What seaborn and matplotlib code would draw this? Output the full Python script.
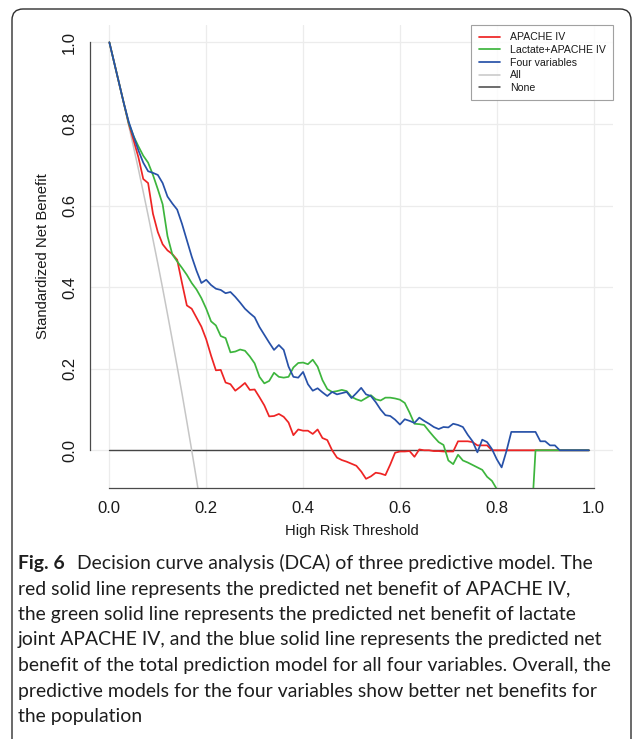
import numpy as np
import pandas as pd
import matplotlib
matplotlib.use("Agg")
import matplotlib.pyplot as plt
import seaborn as sns
from matplotlib.patches import FancyBboxPatch
from matplotlib.transforms import IdentityTransform
from matplotlib.lines import Line2D

# ---------------- data ----------------
thresholds = [0.00, 0.01, 0.02, 0.03, 0.04, 0.05, 0.06, 0.07, 0.08, 0.09,
              0.10, 0.11, 0.12, 0.13, 0.14, 0.15, 0.16, 0.17, 0.18, 0.19,
              0.20, 0.21, 0.22, 0.23, 0.24, 0.25, 0.26, 0.27, 0.28, 0.29,
              0.30, 0.31, 0.32, 0.33, 0.34, 0.35, 0.36, 0.37, 0.38, 0.39,
              0.40, 0.41, 0.42, 0.43, 0.44, 0.45, 0.46, 0.47, 0.48, 0.49,
              0.50, 0.51, 0.52, 0.53, 0.54, 0.55, 0.56, 0.57, 0.58, 0.59,
              0.60, 0.61, 0.62, 0.63, 0.64, 0.65, 0.66, 0.67, 0.68, 0.69,
              0.70, 0.71, 0.72, 0.73, 0.74, 0.75, 0.76, 0.77, 0.78, 0.79,
              0.80, 0.81, 0.82, 0.83, 0.84, 0.85, 0.86, 0.87, 0.88, 0.89,
              0.90, 0.91, 0.92, 0.93, 0.94, 0.95, 0.96, 0.97, 0.98, 0.99]

apache_iv = [1.000, 0.950, 0.900, 0.850, 0.800, 0.760, 0.718, 0.665, 0.655, 0.580,
             0.535, 0.505, 0.490, 0.481, 0.467, 0.410, 0.355, 0.347, 0.325, 0.303,
             0.272, 0.232, 0.196, 0.197, 0.166, 0.162, 0.146, 0.155, 0.165, 0.148,
             0.149, 0.130, 0.110, 0.083, 0.084, 0.089, 0.082, 0.068, 0.037, 0.051,
             0.048, 0.048, 0.040, 0.051, 0.030, 0.025, 0.000, -0.018, -0.024, -0.028,
             -0.033, -0.038, -0.052, -0.070, -0.064, -0.055, -0.057, -0.061, -0.035, -0.006,
             -0.003, -0.003, -0.002, -0.016, 0.002, 0.000, 0.000, -0.002, -0.002, -0.003,
             -0.003, -0.003, 0.022, 0.022, 0.022, 0.020, 0.012, 0.012, 0.012, 0.000,
             0.000, 0.000, 0.000, 0.000, 0.000, 0.000, 0.000, 0.000, 0.000, 0.000,
             0.000, 0.000, 0.000, 0.000, 0.000, 0.000, 0.000, 0.000, 0.000, 0.000]

lactate_apache = [1.000, 0.950, 0.900, 0.850, 0.802, 0.770, 0.745, 0.722, 0.705, 0.675,
                  0.640, 0.603, 0.525, 0.480, 0.463, 0.447, 0.430, 0.410, 0.394, 0.373,
                  0.347, 0.316, 0.306, 0.280, 0.275, 0.240, 0.242, 0.247, 0.244, 0.230,
                  0.213, 0.180, 0.164, 0.170, 0.190, 0.180, 0.178, 0.180, 0.203, 0.214,
                  0.215, 0.211, 0.222, 0.205, 0.172, 0.150, 0.143, 0.145, 0.148, 0.145,
                  0.131, 0.125, 0.121, 0.128, 0.135, 0.125, 0.122, 0.129, 0.129, 0.127,
                  0.124, 0.116, 0.092, 0.065, 0.064, 0.062, 0.047, 0.033, 0.020, 0.013,
                  -0.025, -0.034, -0.011, -0.025, -0.030, -0.036, -0.042, -0.048, -0.065, -0.075,
                  -0.095, -0.130, -0.160, -0.185, -0.205, -0.215, -0.220, -0.210, 0.000, 0.000,
                  0.000, 0.000, 0.000, 0.000, 0.000, 0.000, 0.000, 0.000, 0.000, 0.000]

four_variables = [1.000, 0.950, 0.900, 0.850, 0.805, 0.770, 0.735, 0.705, 0.684, 0.680,
                  0.675, 0.655, 0.622, 0.605, 0.590, 0.555, 0.515, 0.475, 0.440, 0.410,
                  0.418, 0.405, 0.396, 0.393, 0.385, 0.388, 0.376, 0.362, 0.347, 0.336,
                  0.326, 0.302, 0.283, 0.264, 0.246, 0.258, 0.246, 0.205, 0.180, 0.178,
                  0.192, 0.162, 0.146, 0.152, 0.142, 0.133, 0.143, 0.137, 0.140, 0.143,
                  0.128, 0.140, 0.153, 0.137, 0.133, 0.118, 0.100, 0.086, 0.084, 0.075,
                  0.063, 0.076, 0.072, 0.067, 0.080, 0.072, 0.065, 0.057, 0.052, 0.057,
                  0.056, 0.065, 0.062, 0.057, 0.038, 0.022, -0.005, 0.026, 0.020, 0.003,
                  -0.022, -0.042, -0.002, 0.045, 0.045, 0.045, 0.045, 0.045, 0.045, 0.022,
                  0.022, 0.012, 0.012, 0.000, 0.000, 0.000, 0.000, 0.000, 0.000, 0.000]

all_thresholds = [0.00, 0.01, 0.02, 0.03, 0.04, 0.05, 0.06, 0.07, 0.08, 0.09,
                  0.10, 0.11, 0.12, 0.13, 0.14, 0.15, 0.16, 0.17, 0.18, 0.19]
treat_all = [1.000, 0.951, 0.900, 0.849, 0.796, 0.743, 0.689, 0.633, 0.576, 0.517,
             0.458, 0.397, 0.334, 0.270, 0.205, 0.139, 0.070, 0.000, -0.072, -0.146]

none_thresholds = [0.00, 0.99]
treat_none = [0.0, 0.0]

model_names = ["APACHE IV", "Lactate+APACHE IV", "Four variables"]
legend_labels = ["APACHE IV", "Lactate+APACHE IV", "Four variables", "All", "None"]
x_ticks = [0.0, 0.2, 0.4, 0.6, 0.8, 1.0]
x_tick_labels = ["0.0", "0.2", "0.4", "0.6", "0.8", "1.0"]
y_ticks = [0.0, 0.2, 0.4, 0.6, 0.8, 1.0]
y_tick_labels = ["0.0", "0.2", "0.4", "0.6", "0.8", "1.0"]

caption_bold = "Fig. 6"
caption_lines = [
    "Decision curve analysis (DCA) of three predictive model. The",
    "red solid line represents the predicted net benefit of APACHE IV,",
    "the green solid line represents the predicted net benefit of lactate",
    "joint APACHE IV, and the blue solid line represents the predicted net",
    "benefit of the total prediction model for all four variables. Overall, the",
    "predictive models for the four variables show better net benefits for",
    "the population",
]

# ---------------- style ----------------
sns.set_style("white")
plt.rcParams["font.family"] = ["Liberation Sans", "DejaVu Sans"]

colors = {"APACHE IV": "#ee2424", "Lactate+APACHE IV": "#3db53d",
          "Four variables": "#2751a8", "All": "#c6c6c6", "None": "#454545"}

W, H = 637, 739
fig = plt.figure(figsize=(W / 100, H / 100), dpi=100)
ax = fig.add_axes([90 / W, 1 - 488 / H, 523 / W, 463 / H])

df = pd.DataFrame({
    "threshold": thresholds * 3,
    "nb": apache_iv + lactate_apache + four_variables,
    "model": [m for m in model_names for _ in thresholds],
})
df_all = pd.DataFrame({"threshold": all_thresholds, "nb": treat_all})
df_none = pd.DataFrame({"threshold": none_thresholds, "nb": treat_none})

sns.lineplot(data=df_none, x="threshold", y="nb", color=colors["None"], lw=1.0,
             estimator=None, sort=False, ax=ax, zorder=2)
sns.lineplot(data=df_all, x="threshold", y="nb", color=colors["All"], lw=1.1,
             estimator=None, sort=False, ax=ax, zorder=2)
sns.lineplot(data=df, x="threshold", y="nb", hue="model", hue_order=model_names,
             palette=colors, estimator=None, sort=False, errorbar=None,
             legend=False, lw=1.25, ax=ax, zorder=3)

ax.set_xlim(-0.04, 1.04)
ax.set_ylim(-0.0925, 1.0425)
ax.grid(True, color="#ececec", lw=0.9, zorder=0)
ax.set_axisbelow(True)

for s in ["top", "right"]:
    ax.spines[s].set_visible(False)
for s in ["left", "bottom"]:
    ax.spines[s].set_color("#4a4a4a")
    ax.spines[s].set_linewidth(0.9)
ax.spines["left"].set_bounds(0, 1)
ax.spines["bottom"].set_bounds(0, 1)

ax.set_xticks(x_ticks)
ax.set_xticklabels(x_tick_labels)
ax.set_yticks(y_ticks)
ax.set_yticklabels(y_tick_labels, rotation=90, va="center")
ax.tick_params(axis="both", direction="out", length=5.0, width=0.8,
               color="#4a4a4a", labelsize=12, labelcolor="#1a1a1a", pad=4.3)

ax.set_xlabel("High Risk Threshold", fontsize=10.7, color="#1a1a1a", va="center")
ax.set_ylabel("Standardized Net Benefit", fontsize=10.7, color="#1a1a1a", va="center")
ax.xaxis.set_label_coords(0.5, (488 - 531) / -463 * -1)
ax.yaxis.set_label_coords((43 - 90) / 523, 0.5)

handles = [Line2D([], [], color=colors[k], lw=1.25 if k in model_names else 1.1)
           for k in legend_labels]
leg = ax.legend(handles, legend_labels, loc="upper right", bbox_to_anchor=(1, 1),
                borderaxespad=0, frameon=True, fancybox=False, fontsize=7.6,
                handlelength=2.0, handletextpad=0.95, labelspacing=0.25,
                borderpad=0.7)
leg.get_frame().set_edgecolor("#8a8a8a")
leg.get_frame().set_linewidth(0.8)
for t in leg.get_texts():
    t.set_color("#1a1a1a")

# ---------------- caption & border ----------------
border = FancyBboxPatch((12, -30), 619, H - 9 + 30,
                        boxstyle="round,pad=0,rounding_size=11",
                        transform=IdentityTransform(), fill=False,
                        ec="#2e2e2e", lw=1.0)
fig.add_artist(border)

renderer = fig.canvas.get_renderer()
cap_family = ["Lato", "DejaVu Sans"]
probe = fig.text(0, 0, caption_lines[4], fontsize=13, family=cap_family)
w = probe.get_window_extent(renderer).width
probe.remove()
cap_size = 13 * (611 - 18) / w

baselines = [569, 594.5, 620, 645.5, 671, 696.5, 722]
bt = fig.text(18 / W, 1 - baselines[0] / H, caption_bold, fontsize=cap_size,
              family=cap_family, weight="bold", va="baseline", color="#1e1e1e")
bw = bt.get_window_extent(renderer).width
for i, line in enumerate(caption_lines):
    x0 = 18 + (bw + 12 if i == 0 else 0)
    fig.text(x0 / W, 1 - baselines[i] / H, line, fontsize=cap_size,
             family=cap_family, va="baseline", color="#1e1e1e")

fig.savefig("out.png", dpi=100)
